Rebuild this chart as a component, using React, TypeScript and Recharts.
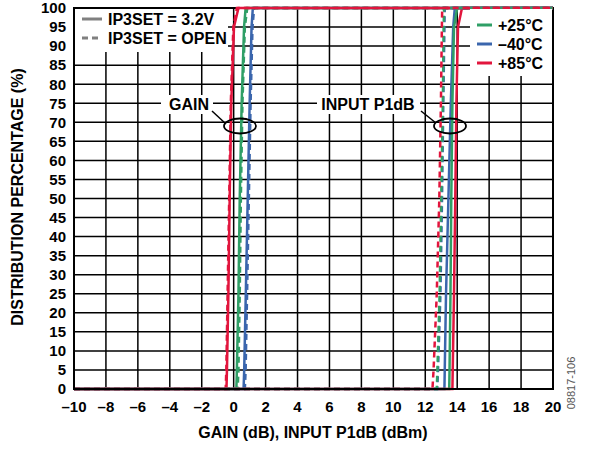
import React from "react"
import {
  CartesianGrid,
  Line,
  LineChart,
  ReferenceArea,
  XAxis,
  YAxis,
} from "recharts"

// cumulative percentage levels the curves are sampled at
const PCT = [0, 5, 25, 50, 75, 95, 100]

// gain (dB) at each PCT level
const gain85Set = [-0.45, -0.42, -0.33, -0.25, -0.15, 0.02, 0.3]
const gain85Open = [-0.5, -0.46, -0.38, -0.28, -0.18, -0.02, 0.2]
const gain25Set = [0.17, 0.2, 0.3, 0.38, 0.5, 0.65, 0.75]
const gain25Open = [0.25, 0.3, 0.38, 0.45, 0.55, 0.7, 0.85]
const gainM40Set = [0.62, 0.66, 0.76, 0.88, 1.0, 1.12, 1.2]
const gainM40Open = [0.7, 0.75, 0.84, 0.95, 1.06, 1.18, 1.28]

// input P1dB (dBm) at each PCT level
const p1db85Set = [13.7, 13.72, 13.8, 13.88, 13.95, 14.05, 14.3]
const p1db85Open = [12.45, 12.52, 12.72, 12.88, 12.98, 13.04, 13.06]
const p1db25Set = [13.5, 13.52, 13.58, 13.63, 13.7, 13.8, 14.0]
const p1db25Open = [12.72, 12.76, 12.9, 13.0, 13.1, 13.15, 13.18]
const p1dbM40Set = [13.2, 13.22, 13.3, 13.45, 13.6, 13.75, 13.85]
const p1dbM40Open = [12.75, 12.8, 12.95, 13.05, 13.13, 13.2, 13.22]

const X_TICKS = [-10, -8, -6, -4, -2, 0, 2, 4, 6, 8, 10, 12, 14, 16, 18, 20]
const Y_TICKS = [0, 5, 10, 15, 20, 25, 30, 35, 40, 45, 50, 55, 60, 65, 70, 75, 80, 85, 90, 95, 100]

const GREEN = "#2f9f66"
const BLUE = "#3b66ad"
const RED = "#e2153d"
const FONT = '"Liberation Sans", Arial, sans-serif'

// cdf runs along the floor from -10 and along the ceiling to 20
const toPoints = (xs: number[]) => [
  { x: X_TICKS[0], y: 0 },
  ...xs.map((x, i) => ({ x, y: PCT[i] })),
  { x: X_TICKS[X_TICKS.length - 1], y: 100 },
]

const curves = [
  { id: "g40s", xs: gainM40Set, color: BLUE, dashed: false },
  { id: "g40o", xs: gainM40Open, color: BLUE, dashed: true },
  { id: "g25s", xs: gain25Set, color: GREEN, dashed: false },
  { id: "g25o", xs: gain25Open, color: GREEN, dashed: true },
  { id: "g85s", xs: gain85Set, color: RED, dashed: false },
  { id: "g85o", xs: gain85Open, color: RED, dashed: true },
  { id: "p40s", xs: p1dbM40Set, color: BLUE, dashed: false },
  { id: "p25s", xs: p1db25Set, color: GREEN, dashed: false },
  { id: "p85s", xs: p1db85Set, color: RED, dashed: false },
  { id: "p40o", xs: p1dbM40Open, color: BLUE, dashed: true },
  { id: "p25o", xs: p1db25Open, color: GREEN, dashed: true },
  { id: "p85o", xs: p1db85Open, color: RED, dashed: true },
]

const fmt = (v: number) => (v < 0 ? `\u2013${Math.abs(v)}` : `${v}`)

export default function App() {
  return (
    <div style={{ position: "absolute", left: 0, top: 0, width: 589, height: 450, background: "#fff" }}>
      <LineChart width={589} height={450} margin={{ top: 8, right: 36, bottom: 0, left: 0 }}>
        <CartesianGrid stroke="#000" strokeWidth={1.5} strokeOpacity={1} />
        <XAxis
          type="number"
          dataKey="x"
          domain={[-10, 20]}
          ticks={X_TICKS}
          interval={0}
          height={61}
          tickLine={false}
          tickMargin={6}
          axisLine={{ stroke: "#000", strokeWidth: 2 }}
          tick={{ fill: "#000", fontSize: 15, fontWeight: 700, fontFamily: FONT }}
          tickFormatter={fmt}
          allowDataOverflow
        />
        <YAxis
          type="number"
          dataKey="y"
          domain={[0, 100]}
          ticks={Y_TICKS}
          interval={0}
          width={74}
          tickLine={false}
          axisLine={{ stroke: "#000", strokeWidth: 2 }}
          tick={{ fill: "#000", fontSize: 15, fontWeight: 700, fontFamily: FONT }}
        />
        {curves.map((c) => (
          <Line
            key={c.id}
            data={toPoints(c.xs)}
            dataKey="y"
            type="linear"
            stroke={c.color}
            strokeWidth={2.5}
            strokeDasharray={c.dashed ? "6 4" : undefined}
            dot={false}
            activeDot={false}
            isAnimationActive={false}
          />
        ))}
        <ReferenceArea x1={-10} x2={20} y1={0} y2={100} fill="none" stroke="#000" strokeWidth={2} />
      </LineChart>

      <svg
        width={589}
        height={450}
        style={{ position: "absolute", left: 0, top: 0, pointerEvents: "none" }}
        fontFamily={FONT}
        fontWeight={700}
      >
        {/* IP3SET legend */}
        <rect x={75} y={9} width={153} height={43} fill="#fff" />
        <line x1={82} y1={19} x2={102} y2={19} stroke="#808080" strokeWidth={3} />
        <line x1={82} y1={38} x2={102} y2={38} stroke="#808080" strokeWidth={3} strokeDasharray="6 4" />
        <text x={108} y={24.5} fontSize={16}>IP3SET = 3.2V</text>
        <text x={108} y={43.5} fontSize={16}>IP3SET = OPEN</text>

        {/* temperature legend */}
        <rect x={470} y={9} width={82} height={67} fill="#fff" />
        <line x1={477} y1={25} x2={492} y2={25} stroke={GREEN} strokeWidth={3} />
        <line x1={477} y1={44} x2={492} y2={44} stroke={BLUE} strokeWidth={3} />
        <line x1={477} y1={63} x2={492} y2={63} stroke={RED} strokeWidth={3} />
        <text x={498} y={30.5} fontSize={16}>+25°C</text>
        <text x={498} y={49.5} fontSize={16}>{"\u201340°C"}</text>
        <text x={498} y={68.5} fontSize={16}>+85°C</text>

        {/* annotations */}
        <rect x={161} y={95} width={52} height={19} fill="#fff" />
        <text x={189} y={110} fontSize={16} textAnchor="middle">GAIN</text>
        <line x1={212} y1={111} x2={226} y2={124} stroke="#000" strokeWidth={1.5} />
        <ellipse cx={240} cy={126} rx={16} ry={7.5} fill="none" stroke="#000" strokeWidth={1.8} />

        <rect x={317} y={95} width={103} height={19} fill="#fff" />
        <text x={368} y={110} fontSize={16} textAnchor="middle">INPUT P1dB</text>
        <line x1={421} y1={111} x2={436} y2={123} stroke="#000" strokeWidth={1.5} />
        <ellipse cx={450} cy={126} rx={16} ry={7.5} fill="none" stroke="#000" strokeWidth={1.8} />

        {/* axis titles */}
        <text x={313} y={438} fontSize={16} textAnchor="middle">GAIN (dB), INPUT P1dB (dBm)</text>
        <text
          x={0}
          y={0}
          fontSize={16}
          textAnchor="middle"
          transform="translate(23 197) rotate(-90)"
        >
          DISTRIBUTION PERCENTAGE (%)
        </text>
        <text
          x={0}
          y={0}
          fontSize={11}
          fontWeight={400}
          fill="#555"
          textAnchor="middle"
          transform="translate(575 383) rotate(-90)"
        >
          08817-106
        </text>
      </svg>
    </div>
  )
}
